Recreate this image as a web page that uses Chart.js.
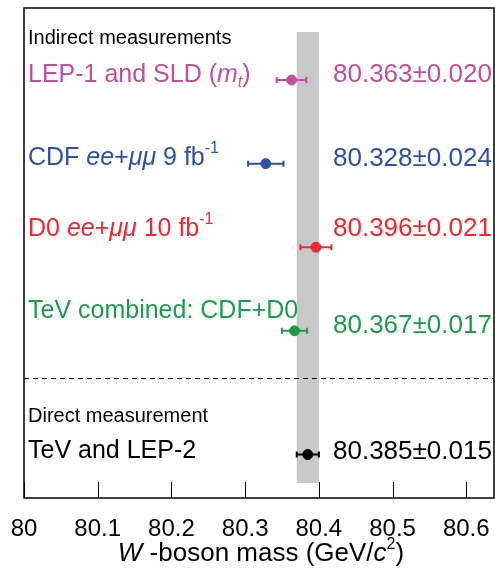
<!DOCTYPE html>
<html>
<head>
<meta charset="utf-8">
<script src="https://cdn.jsdelivr.net/npm/chart.js@4"></script>
<style>
html,body{margin:0;padding:0;background:#fff;}
#wrap{width:495px;height:572px;}
</style>
</head>
<body>
<div id="wrap"><canvas id="chart" width="495" height="572"></canvas></div>
<script>
// measurements (GeV/c^2)
const masses = [80.363, 80.328, 80.396, 80.367, 80.385];
const errors = [0.020, 0.024, 0.021, 0.017, 0.015];
const rows = [0, 1, 2, 3, 4.48];
const colors = ['#c04f9e', '#2f50a4', '#ee2a2e', '#1d9b4b', '#000000'];
const xTicks = [80, 80.1, 80.2, 80.3, 80.4, 80.5, 80.6];
const bandMass = 80.385, bandErr = 0.015;

// labels as runs of styled text
const labelRuns = [
  [{t:'LEP-1 and SLD ('},{t:'m',it:1},{t:'t',it:1,sub:1},{t:')'}],
  [{t:'CDF '},{t:'ee',it:1},{t:'+'},{t:'μμ',it:1},{t:' 9 fb'},{t:'-1',sup:1}],
  [{t:'D0 '},{t:'ee',it:1},{t:'+'},{t:'μμ',it:1},{t:' 10 fb'},{t:'-1',sup:1}],
  [{t:'TeV combined: CDF+D0'}],
  [{t:'TeV and LEP-2'}]
];
const labelDy = [-5, -6, -18, -20, -3];
const valueDy = [-5, -5, -18, -5, -3];
const headers = ['Indirect measurements', 'Direct measurement'];
const titleRuns = [{t:'W',it:1},{t:' -boson mass (GeV/'},{t:'c',it:1},{t:'2',sup:1},{t:')'}];

const FONT = '"Liberation Sans", Arial, sans-serif';

function drawRuns(ctx, runs, x, y, size, color, align){
  ctx.fillStyle = color;
  ctx.textBaseline = 'middle';
  ctx.textAlign = 'left';
  const fontOf = r => (r.it?'italic ':'') + ((r.sub||r.sup)?Math.round(size*0.62):size) + 'px ' + FONT;
  if(align==='center'){
    let w=0;
    runs.forEach(r=>{ ctx.font=fontOf(r); w+=ctx.measureText(r.t).width; });
    x -= w/2;
  }
  runs.forEach(r=>{
    ctx.font = fontOf(r);
    const dy = r.sub ? size*0.3 : r.sup ? -size*0.38 : 0;
    ctx.fillText(r.t, x, y+dy);
    x += ctx.measureText(r.t).width;
  });
}

const wPlugin = {
  id:'wmass',
  beforeDatasetsDraw(chart){
    const {ctx, chartArea:a, scales:{x, y}} = chart;
    ctx.save();
    // gray band of the direct measurement
    ctx.fillStyle = '#c8c8c8';
    const bx0 = x.getPixelForValue(bandMass-bandErr), bx1 = x.getPixelForValue(bandMass+bandErr);
    const by0 = y.getPixelForValue(-0.574), by1 = y.getPixelForValue(4.82);
    ctx.fillRect(bx0, by0, bx1-bx0, by1-by0);
    // dashed separator
    ctx.strokeStyle = '#000';
    ctx.lineWidth = 1;
    ctx.setLineDash([5,4]);
    const dy = Math.round(y.getPixelForValue(3.57))+0.5;
    ctx.beginPath(); ctx.moveTo(a.left, dy); ctx.lineTo(a.right, dy); ctx.stroke();
    ctx.setLineDash([]);
    // error bars
    ctx.lineWidth = 2;
    masses.forEach((m,i)=>{
      const py = y.getPixelForValue(rows[i]);
      const x0 = x.getPixelForValue(m-errors[i]), x1 = x.getPixelForValue(m+errors[i]);
      ctx.strokeStyle = colors[i];
      ctx.beginPath();
      ctx.moveTo(x0, py); ctx.lineTo(x1, py);
      ctx.moveTo(x0, py-3); ctx.lineTo(x0, py+3);
      ctx.moveTo(x1, py-3); ctx.lineTo(x1, py+3);
      ctx.stroke();
    });
    ctx.restore();
  },
  afterDraw(chart){
    const {ctx, chartArea:a, scales:{x, y}} = chart;
    ctx.save();
    // frame
    ctx.strokeStyle = '#000';
    ctx.lineWidth = 1.5;
    ctx.strokeRect(a.left, a.top, a.right-a.left, a.bottom-a.top);
    // inward ticks
    ctx.lineWidth = 1;
    xTicks.forEach(v=>{
      const px = Math.round(x.getPixelForValue(v))+0.5;
      ctx.beginPath(); ctx.moveTo(px, a.bottom); ctx.lineTo(px, a.bottom-16); ctx.stroke();
    });
    // headers
    ctx.font = '20px ' + FONT;
    ctx.fillStyle = '#000';
    ctx.textBaseline = 'middle';
    ctx.fillText(headers[0], 28, y.getPixelForValue(-0.5));
    ctx.fillText(headers[1], 28, y.getPixelForValue(4.02));
    // labels and values
    masses.forEach((m,i)=>{
      const py = y.getPixelForValue(rows[i]);
      drawRuns(ctx, labelRuns[i], 28, py+labelDy[i], 25, colors[i]);
      drawRuns(ctx, [{t:m.toFixed(3)+'±'+errors[i].toFixed(3)}], 333, py+valueDy[i], 26, colors[i]);
    });
    // axis title
    drawRuns(ctx, titleRuns, (a.left+a.right)/2 + 2, a.bottom+56, 26, '#000', 'center');
    ctx.restore();
  }
};

new Chart(document.getElementById('chart'), {
  type:'scatter',
  data:{
    datasets:[{
      data: masses.map((m,i)=>({x:m, y:rows[i]})),
      pointBackgroundColor: colors,
      pointBorderColor: colors,
      pointRadius: 5,
      pointHoverRadius: 5,
      showLine:false
    }]
  },
  options:{
    responsive:false,
    animation:false,
    devicePixelRatio:1,
    layout:{autoPadding:false, padding:{left:24, right:1, top:8, bottom:0}},
    plugins:{legend:{display:false}, tooltip:{enabled:false}},
    scales:{
      x:{
        type:'linear',
        min:80, max:80.6376,
        afterBuildTicks: s => { s.ticks = xTicks.map(v=>({value:v})); },
        afterFit: s => { s.paddingLeft = 0; s.paddingRight = 0; s.height = 74; },
        grid:{display:false, drawTicks:false},
        border:{display:false},
        ticks:{
          padding:17,
          color:'#000',
          font:{family:FONT, size:24},
          callback: v => String(+v.toFixed(1))
        }
      },
      y:{
        type:'linear',
        display:false,
        reverse:true,
        min:-0.862, max:5.0
      }
    }
  },
  plugins:[wPlugin]
});
</script>
</body>
</html>
